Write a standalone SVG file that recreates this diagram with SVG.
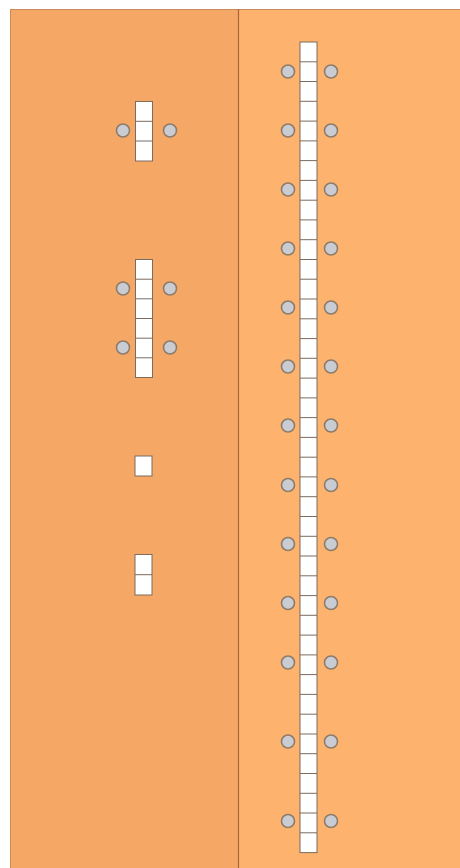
<svg xmlns="http://www.w3.org/2000/svg" width="460" height="868" viewBox="0 0 460 868">
<style>
.cell{fill:#ffffff;stroke:#7d6b5e;stroke-width:1}
.div{fill:none;stroke:#7d6b5e;stroke-width:1}
.pin{fill:#c9cdd3;stroke:#8e7b6a;stroke-width:1.6}
</style>
<rect x="0" y="0" width="460" height="868" fill="#ffffff"/>
<g id="panels">
<rect x="10" y="9" width="228.5" height="859" fill="#f5a866"/>
<rect x="238.5" y="9" width="221.5" height="859" fill="#fdb36e"/>
<path d="M10 9.5H460M10.5 9V868" fill="none" stroke="#c98a5c" stroke-width="1"/>
<path d="M238.5 9V868" fill="none" stroke="#a8643a" stroke-width="1.2"/>
</g>
<g id="connectors"></g>
<g id="left-strip-1">
<rect class="cell" x="135.5" y="101.5" width="17" height="59.5"/>
<path class="div" d="M135.5 121.3h17M135.5 141h17"/>
<circle class="pin" cx="123" cy="130.5" r="6.5"/>
<circle class="pin" cx="170" cy="130.5" r="6.5"/>
</g>
<g id="left-strip-2">
<rect class="cell" x="135.5" y="259.5" width="17" height="118"/>
<path class="div" d="M135.5 279.2h17M135.5 298.8h17M135.5 318.5h17M135.5 338.2h17M135.5 357.8h17"/>
<circle class="pin" cx="123" cy="288.5" r="6.5"/>
<circle class="pin" cx="170" cy="288.5" r="6.5"/>
<circle class="pin" cx="123" cy="347.5" r="6.5"/>
<circle class="pin" cx="170" cy="347.5" r="6.5"/>
</g>
<g id="left-square">
<rect class="cell" x="135" y="456" width="17" height="20"/>
</g>
<g id="left-strip-4">
<rect class="cell" x="135" y="554.5" width="17" height="40.5"/>
<path class="div" d="M135 574.7h17"/>
</g>
<g id="right-strip">
<rect class="cell" x="300" y="42" width="17" height="810.6"/>
<path class="div" d="M300 61.8h17M300 81.5h17M300 101.3h17M300 121.1h17M300 140.9h17M300 160.6h17M300 180.4h17M300 200.2h17M300 219.9h17M300 239.7h17M300 259.5h17M300 279.2h17M300 299h17M300 318.8h17M300 338.6h17M300 358.3h17M300 378.1h17M300 397.9h17M300 417.6h17M300 437.4h17M300 457.2h17M300 476.9h17M300 496.7h17M300 516.5h17M300 536.3h17M300 556h17M300 575.8h17M300 595.6h17M300 615.3h17M300 635.1h17M300 654.9h17M300 674.6h17M300 694.4h17M300 714.2h17M300 734h17M300 753.7h17M300 773.5h17M300 793.3h17M300 813h17M300 832.8h17"/>
<circle class="pin" cx="288" cy="71.5" r="6.5"/><circle class="pin" cx="331" cy="71.5" r="6.5"/>
<circle class="pin" cx="288" cy="130.5" r="6.5"/><circle class="pin" cx="331" cy="130.5" r="6.5"/>
<circle class="pin" cx="288" cy="189.5" r="6.5"/><circle class="pin" cx="331" cy="189.5" r="6.5"/>
<circle class="pin" cx="288" cy="248.5" r="6.5"/><circle class="pin" cx="331" cy="248.5" r="6.5"/>
<circle class="pin" cx="288" cy="307.5" r="6.5"/><circle class="pin" cx="331" cy="307.5" r="6.5"/>
<circle class="pin" cx="288" cy="366.5" r="6.5"/><circle class="pin" cx="331" cy="366.5" r="6.5"/>
<circle class="pin" cx="288" cy="425.5" r="6.5"/><circle class="pin" cx="331" cy="425.5" r="6.5"/>
<circle class="pin" cx="288" cy="485" r="6.5"/><circle class="pin" cx="331" cy="485" r="6.5"/>
<circle class="pin" cx="288" cy="544" r="6.5"/><circle class="pin" cx="331" cy="544" r="6.5"/>
<circle class="pin" cx="288" cy="603" r="6.5"/><circle class="pin" cx="331" cy="603" r="6.5"/>
<circle class="pin" cx="288" cy="662.5" r="6.5"/><circle class="pin" cx="331" cy="662.5" r="6.5"/>
<circle class="pin" cx="288" cy="741.5" r="6.5"/><circle class="pin" cx="331" cy="741.5" r="6.5"/>
<circle class="pin" cx="288" cy="821" r="6.5"/><circle class="pin" cx="331" cy="821" r="6.5"/>
</g>
</svg>
